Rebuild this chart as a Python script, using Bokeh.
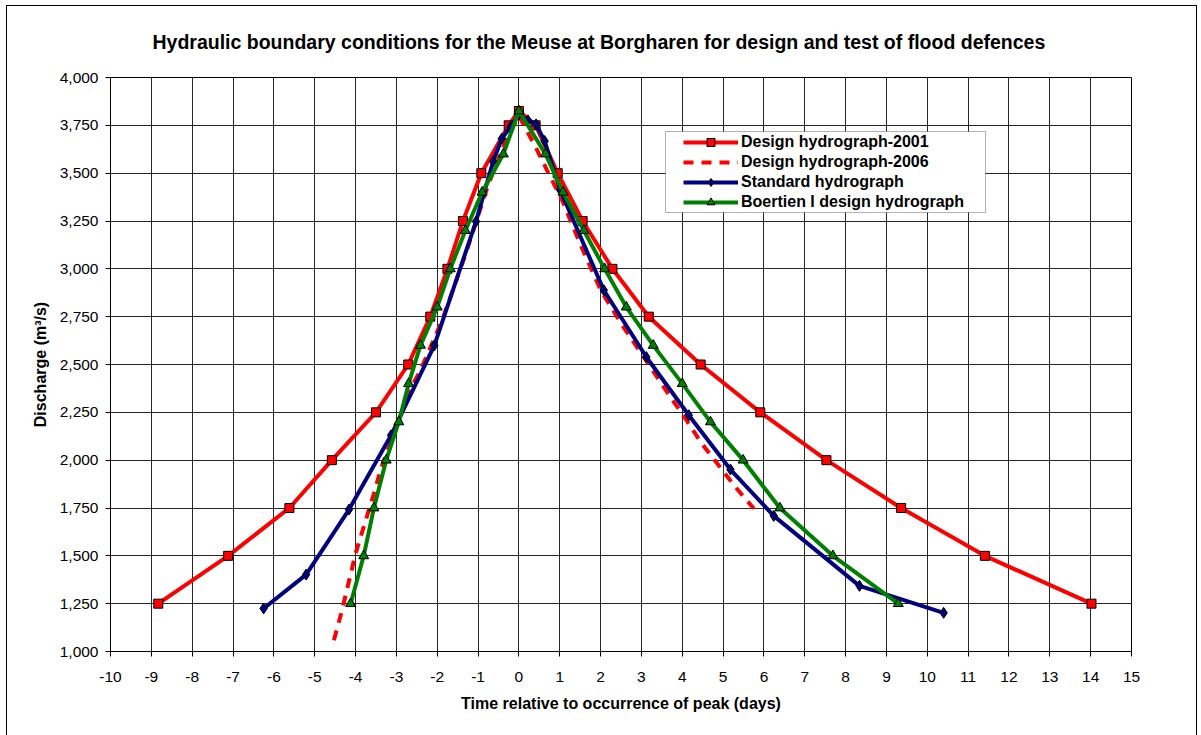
from bokeh.plotting import figure
from bokeh.models import (Range1d, FixedTicker, NumeralTickFormatter, Legend,
                          LegendItem, BoxAnnotation)
from bokeh.embed import file_html
from bokeh.resources import INLINE

# ---------------- data ----------------
x_ticks = list(range(-10, 16))
y_ticks = list(range(1000, 4001, 250))

days_2001 = [-8.83, -7.12, -5.62, -4.58, -3.50, -2.71, -2.17, -1.75, -1.37, -0.92,
             -0.25, 0.0, 0.41, 0.95, 1.56, 2.29, 3.18, 4.45, 5.91, 7.53, 9.36,
             11.41, 14.02]
q_2001 = [1250, 1500, 1750, 2000, 2250, 2500, 2750, 3000, 3250, 3500, 3750, 3825,
          3750, 3500, 3250, 3000, 2750, 2500, 2250, 2000, 1750, 1500, 1250]

days_2006 = [-4.53, -4.33, -4.0, -3.8, -3.55, -3.39, -3.0, -2.66, -2.41, -1.88, -1.3,
             -0.75, -0.3, 0.0, 0.41, 0.69, 1.06, 1.5, 2.0, 2.5, 3.1, 3.71, 4.08,
             4.45, 4.89, 5.30, 5.75]
q_2006 = [1059, 1216, 1512, 1651, 1825, 1947, 2180, 2370, 2470, 2731, 3080,
          3440, 3680, 3800, 3636, 3515, 3358, 3130, 2890, 2715, 2525, 2330, 2217,
          2095, 1973, 1860, 1747]

days_std = [-6.25, -5.21, -4.16, -3.13, -2.07, -1.05, -0.63, -0.42, -0.21, 0.0,
            0.22, 0.42, 0.63, 1.01, 2.08, 3.12, 4.16, 5.18, 6.24, 8.34, 10.40]
q_std = [1225, 1402, 1742, 2130, 2600, 3248, 3562, 3680, 3741, 3807, 3776, 3755,
         3668, 3412, 2888, 2539, 2235, 1951, 1709, 1343, 1202]

days_boertien = [-4.12, -3.80, -3.55, -3.25, -2.94, -2.70, -2.41, -2.0, -1.68,
                 -1.31, -0.90, -0.38, 0.0, 0.65, 1.08, 1.59, 2.10, 2.63, 3.29,
                 4.0, 4.69, 5.49, 6.39, 7.69, 9.29]
q_boertien = [1250, 1500, 1750, 2000, 2200, 2400, 2600, 2800, 3000, 3200, 3400,
              3600, 3825, 3600, 3400, 3200, 3000, 2800, 2600, 2400, 2200, 2000,
              1750, 1500, 1250]

series_names = ["Design hydrograph-2001", "Design hydrograph-2006",
                "Standard hydrograph", "Boertien I design hydrograph"]

title_text = ("Hydraulic boundary conditions  for the Meuse at Borgharen "
              "for design and test of flood defences")

FONT = "Liberation Sans"

# ---------------- figure ----------------
# outer chart border (left, top, right edges) drawn as inset shadows on the host
border_shadow = ("inset 6px 0 0 0 white, inset 0 5px 0 0 white, "
                 "inset -4px 0 0 0 white, inset 7px 0 0 0 black, "
                 "inset 0 6px 0 0 black, inset -5px 0 0 0 black")

p = figure(width=1201, height=735, output_backend="svg", toolbar_location=None,
           x_range=Range1d(-10, 15), y_range=Range1d(1000, 4000),
           min_border_left=110, min_border_right=70, min_border_top=77,
           min_border_bottom=84, background_fill_color="white",
           border_fill_color=None,
           styles={"box-shadow": border_shadow, "background-color": "white"})

p.title.text = title_text
p.title.align = "left"
p.title.text_font = FONT
p.title.text_font_size = "19.5px"
p.title.text_font_style = "bold"
p.title.text_color = "black"
p.title.offset = 42
p.title.standoff = 50

p.outline_line_color = "black"
p.outline_line_width = 1

# axes
p.xaxis.ticker = FixedTicker(ticks=x_ticks)
p.yaxis.ticker = FixedTicker(ticks=y_ticks)
p.yaxis.formatter = NumeralTickFormatter(format="0,0")
p.xaxis.major_label_overrides = {t: str(t) for t in x_ticks}
for ax in (p.xaxis[0], p.yaxis[0]):
    ax.major_label_text_font = FONT
    ax.major_label_text_font_size = "15.5px"
    ax.major_label_text_color = "black"
    ax.axis_label_text_font = FONT
    ax.axis_label_text_font_size = "16px"
    ax.axis_label_text_font_style = "bold"
    ax.axis_label_text_color = "black"
    ax.axis_line_color = "black"
    ax.major_tick_line_color = "black"
    ax.major_tick_out = 5
    ax.major_tick_in = 0
    ax.minor_tick_line_color = None
p.xaxis.axis_label = "Time relative to occurrence of peak (days)"
p.yaxis.axis_label = "Discharge (m³/s)"
p.xaxis.major_label_standoff = 15
p.yaxis.major_label_standoff = 7
p.xaxis.axis_label_standoff = 10
p.yaxis.axis_label_standoff = 8

p.xgrid.ticker = FixedTicker(ticks=x_ticks)
p.ygrid.ticker = FixedTicker(ticks=y_ticks)
for g in (p.xgrid[0], p.ygrid[0]):
    g.grid_line_color = "black"
    g.grid_line_width = 1
    g.grid_line_alpha = 0.85

# ---------------- series ----------------
r1l = p.line(days_2001, q_2001, line_color="#FF0000", line_width=4)
r1m = p.scatter(days_2001, q_2001, marker="square", size=9, fill_color="#FF0000",
                line_color="black", line_width=1)
r2l = p.line(days_2006, q_2006, line_color="#FF0000", line_width=4,
             line_dash="10 8")
r3l = p.line(days_std, q_std, line_color="#000080", line_width=4)
r3m = p.scatter(days_std, q_std, marker="diamond", size=11, fill_color="#000080",
                line_color="black", line_width=1)
r4l = p.line(days_boertien, q_boertien, line_color="#008000", line_width=4)
r4m = p.scatter(days_boertien, q_boertien, marker="triangle", size=10,
                fill_color="#008000", line_color="black", line_width=1)

# legend box (frame drawn separately so the padding can match the reference)
legend_box = BoxAnnotation(left=665, right=985, top=131, bottom=212,
                           left_units="canvas", right_units="canvas",
                           top_units="canvas", bottom_units="canvas",
                           fill_color="white", fill_alpha=1,
                           line_color="black", line_width=1)
p.add_layout(legend_box)

legend = Legend(items=[
    LegendItem(label=series_names[0], renderers=[r1l, r1m]),
    LegendItem(label=series_names[1], renderers=[r2l]),
    LegendItem(label=series_names[2], renderers=[r3l, r3m]),
    LegendItem(label=series_names[3], renderers=[r4l, r4m]),
], location=(573, 439), padding=0, margin=0, spacing=0, glyph_width=55,
    glyph_height=20, label_height=20, label_standoff=3,
    label_text_font=FONT, label_text_font_size="16px",
    label_text_font_style="bold", label_text_color="black",
    background_fill_alpha=0, border_line_alpha=0)
p.add_layout(legend)

open("out.html", "w").write(file_html(p, INLINE))
